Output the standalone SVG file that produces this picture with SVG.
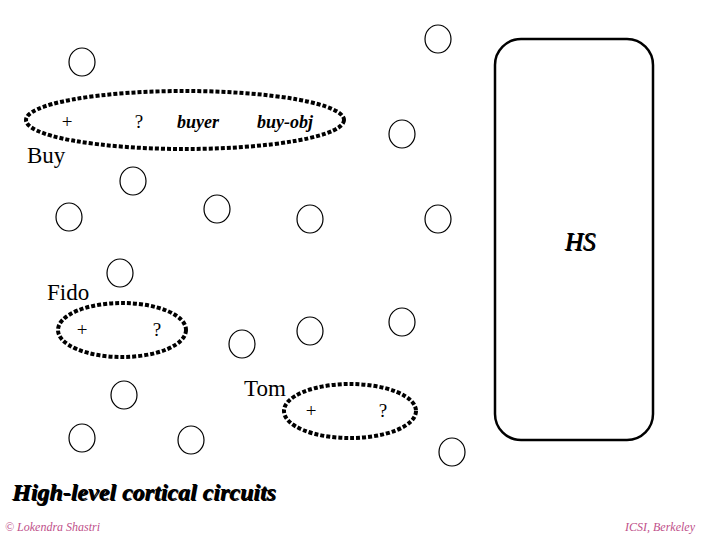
<svg xmlns="http://www.w3.org/2000/svg" width="720" height="540" viewBox="0 0 720 540">
<style>
.n{fill:none;stroke:#000;stroke-width:1.2}
.d{fill:none;stroke:#000;stroke-width:4;stroke-dasharray:4 2}
.t{font-family:"Liberation Serif",serif;fill:#000}
.bi{font-family:"Liberation Serif",serif;font-style:italic;font-weight:bold;fill:#000}
.f{font-family:"Liberation Serif",serif;font-style:italic;fill:#c0508a;font-size:12px}
</style>
<rect width="720" height="540" fill="#fff"/>
<g id="hs">
<rect x="495" y="39" width="158" height="401" rx="26" ry="26" fill="none" stroke="#000" stroke-width="2.5"/>
<text x="580" y="250" class="t" font-size="25" font-style="italic" text-anchor="middle" fill="#aaa" dx="1" dy="1">HS</text>
<text x="580" y="250" class="t" font-size="25" font-style="italic" text-anchor="middle">HS</text>
</g>
<g id="units">
<ellipse class="n" cx="82" cy="62" rx="13" ry="14"/>
<ellipse class="n" cx="438" cy="39" rx="13" ry="14"/>
<ellipse class="n" cx="402" cy="134" rx="13" ry="14"/>
<ellipse class="n" cx="133" cy="181" rx="13" ry="14"/>
<ellipse class="n" cx="69" cy="217" rx="13" ry="14"/>
<ellipse class="n" cx="217" cy="209" rx="13" ry="14"/>
<ellipse class="n" cx="310" cy="219" rx="13" ry="14"/>
<ellipse class="n" cx="438" cy="219" rx="13" ry="14"/>
<ellipse class="n" cx="120" cy="273" rx="13" ry="14"/>
<ellipse class="n" cx="242" cy="344" rx="13" ry="14"/>
<ellipse class="n" cx="310" cy="331" rx="13" ry="14"/>
<ellipse class="n" cx="402" cy="322" rx="13" ry="14"/>
<ellipse class="n" cx="124" cy="395" rx="13" ry="14"/>
<ellipse class="n" cx="82" cy="438" rx="13" ry="14"/>
<ellipse class="n" cx="191" cy="440" rx="13" ry="14"/>
<ellipse class="n" cx="452" cy="452" rx="13" ry="14"/>
</g>
<g id="buy">
<ellipse class="d" cx="185" cy="120" rx="159" ry="29"/>
<text x="67" y="128" class="t" font-size="19" text-anchor="middle">+</text>
<text x="139" y="128" class="t" font-size="19" text-anchor="middle">?</text>
<text x="198" y="128" class="bi" font-size="18" text-anchor="middle">buyer</text>
<text x="285" y="128" class="bi" font-size="18" text-anchor="middle">buy-obj</text>
<text x="27" y="163" class="t" font-size="23">Buy</text>
</g>
<g id="fido">
<ellipse class="d" cx="122" cy="330" rx="64" ry="27"/>
<text x="82" y="336" class="t" font-size="19" text-anchor="middle">+</text>
<text x="157" y="336" class="t" font-size="19" text-anchor="middle">?</text>
<text x="47" y="300" class="t" font-size="23">Fido</text>
</g>
<g id="tom">
<ellipse class="d" cx="350" cy="411" rx="66" ry="27"/>
<text x="311" y="417" class="t" font-size="19" text-anchor="middle">+</text>
<text x="383" y="417" class="t" font-size="19" text-anchor="middle">?</text>
<text x="244" y="396" class="t" font-size="23">Tom</text>
</g>
<g id="connectors"></g>
<g id="title">
<text x="13" y="501" class="bi" font-size="24" fill="#999">High-level cortical circuits</text>
<text x="12" y="500" class="bi" font-size="24">High-level cortical circuits</text>
</g>
<text x="5" y="531" class="f">© Lokendra Shastri</text>
<text x="695" y="531" class="f" text-anchor="end">ICSI, Berkeley</text>
</svg>
